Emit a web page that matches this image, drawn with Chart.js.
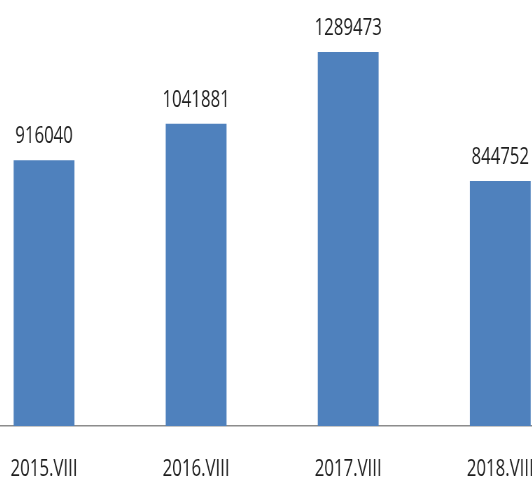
<!DOCTYPE html>
<html>
<head>
<meta charset="utf-8">
<script src="https://cdn.jsdelivr.net/npm/chart.js@4/dist/chart.umd.min.js"></script>
<style>
html,body{margin:0;padding:0;background:#fff;overflow:hidden;width:532px;height:477px;}
#c{position:absolute;left:-32px;top:0;transform:scaleX(0.7);transform-origin:0 0;}
</style>
</head>
<body>
<canvas id="c" width="869" height="512"></canvas>
<script>
const categories = ["2015.VIII", "2016.VIII", "2017.VIII", "2018.VIII"];
const values = [916040, 1041881, 1289473, 844752];

const FONT = "'Open Sans', 'Liberation Sans', sans-serif";

const valueLabels = {
  id: 'valueLabels',
  afterDatasetsDraw(chart) {
    const ctx = chart.ctx;
    const meta = chart.getDatasetMeta(0);
    ctx.save();
    ctx.font = "24px " + FONT;
    ctx.fillStyle = '#1e1e1e';
    ctx.textAlign = 'center';
    ctx.textBaseline = 'alphabetic';
    meta.data.forEach((bar, i) => {
      ctx.fillText(String(values[i]), bar.x, bar.y - 17);
    });
    ctx.restore();
  }
};

new Chart(document.getElementById('c'), {
  type: 'bar',
  data: {
    labels: categories,
    datasets: [{
      data: values,
      backgroundColor: '#4F81BD',
      borderWidth: 0,
      barPercentage: 0.4,
      categoryPercentage: 1.0
    }]
  },
  options: {
    responsive: false,
    animation: false,
    layout: { padding: { top: 20, left: 0, right: 0, bottom: 0 } },
    plugins: { legend: { display: false }, tooltip: { enabled: false } },
    scales: {
      x: {
        grid: { display: false, drawTicks: false },
        border: { display: true, color: '#8c8c8c', width: 1.5 },
        ticks: { color: '#1e1e1e', padding: 31, font: { family: FONT, size: 24, lineHeight: 1 }, maxRotation: 0, autoSkip: false }
      },
      y: {
        display: false,
        min: 0,
        max: 1400000
      }
    }
  },
  plugins: [valueLabels]
});
</script>
</body>
</html>
